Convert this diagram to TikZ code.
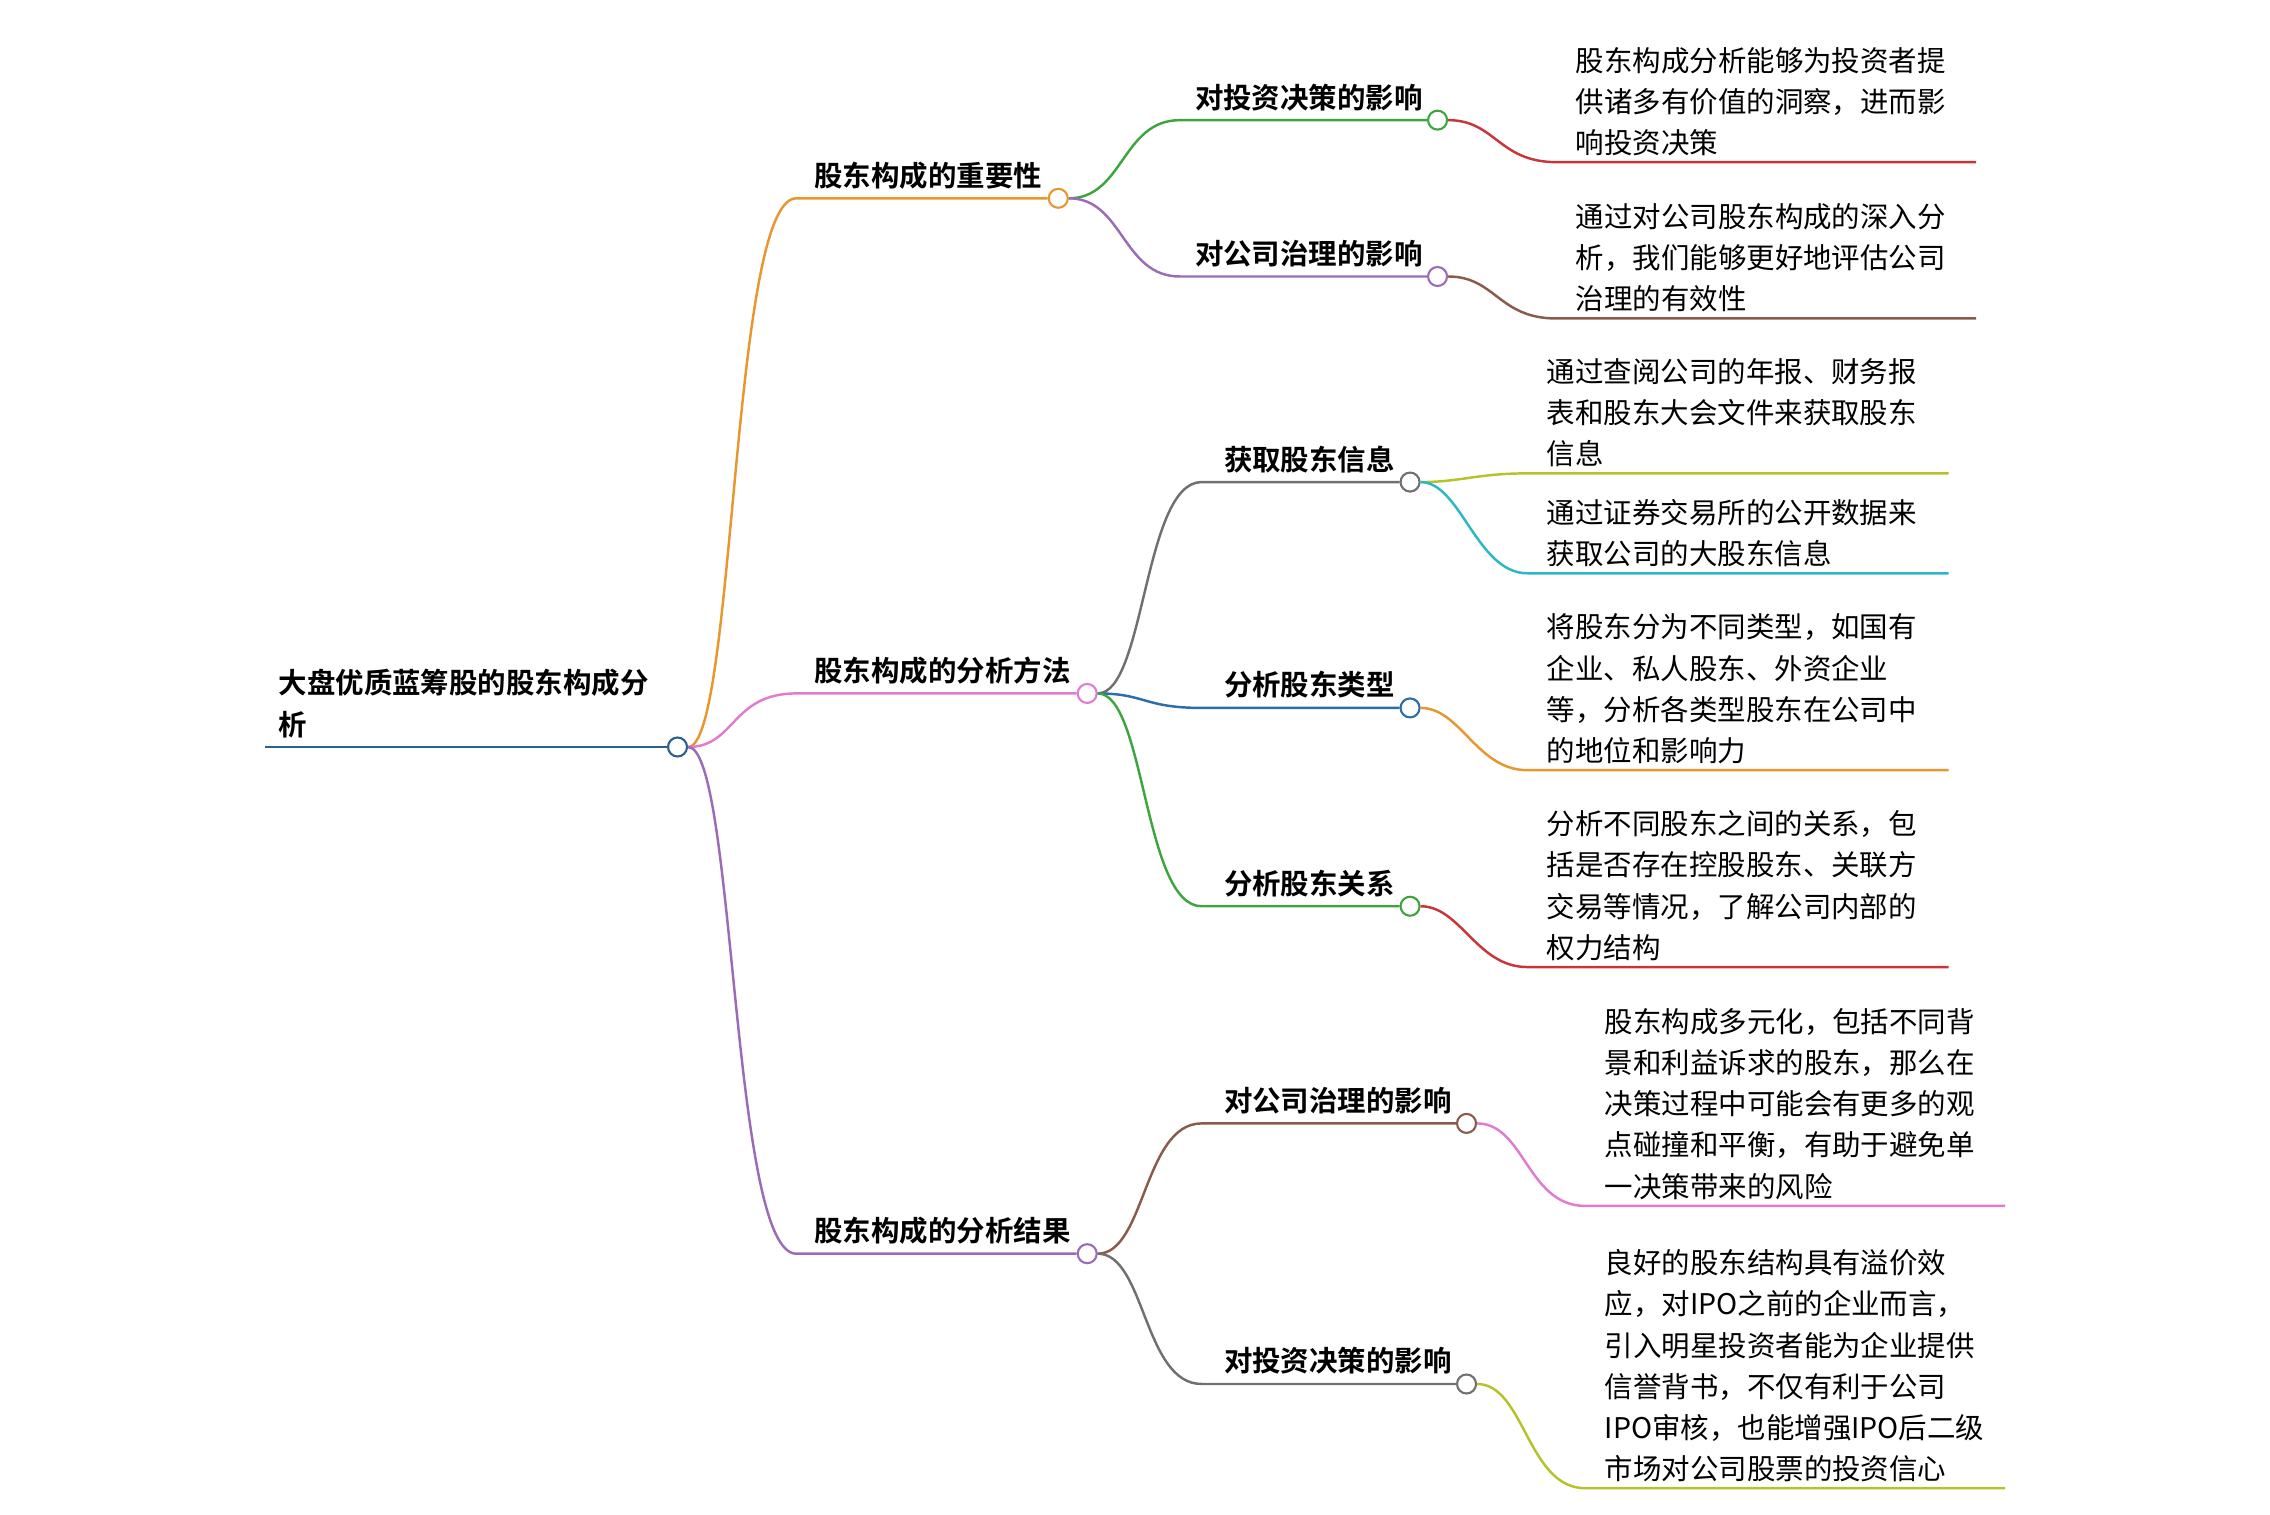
\documentclass[tikz,border=0pt]{standalone}
\usepackage{fontspec}
\setmainfont{Noto Sans CJK SC}[BoldFont={Noto Sans CJK SC Bold}]
\definecolor{corange}{HTML}{E8962E}
\definecolor{cpink}{HTML}{E07BD0}
\definecolor{cpurple}{HTML}{9B6BB8}
\definecolor{cgreen}{HTML}{3DA53D}
\definecolor{cred}{HTML}{C8363A}
\definecolor{cbrown}{HTML}{8A5A4A}
\definecolor{cgray}{HTML}{707070}
\definecolor{cyel}{HTML}{B5C22A}
\definecolor{ccyan}{HTML}{2AB8C8}
\definecolor{cblue}{HTML}{2C6FA8}
\definecolor{croot}{HTML}{2C5F8A}
\tikzset{
  lbl/.style={font=\bfseries\fontsize{8.1}{11.7}\selectfont, inner sep=0pt, anchor=south west},
  leaf/.style={font=\fontsize{8.1}{11.7}\selectfont, align=left, inner sep=0pt, anchor=south west},
  dot/.style={circle, draw, fill=white, line width=0.6pt, inner sep=0pt, minimum size=0.19cm},
  ln/.style={line width=0.7pt},
}
\begin{document}
\begin{tikzpicture}[x=0.014477cm, y=-0.014477cm]
  \useasboundingbox (0,0) rectangle (1568,1046);

  % root
  \node[lbl, align=left] (root) at (192,510) {大盘优质蓝筹股的股东构成分\\析};
  \coordinate (rootS) at (183,516);
  \node[dot, draw=croot] (rootC) at (468,516) {};
  \draw[ln, croot] (rootS) -- (rootC);

  % level 1
  \coordinate (impS) at (550,137);
  \node[lbl] (imp) at (562,131) {股东构成的重要性};
  \node[dot, draw=corange] (impC) at (731,137) {};
  \coordinate (metS) at (550,479);
  \node[lbl] (met) at (562,473) {股东构成的分析方法};
  \node[dot, draw=cpink] (metC) at (751,479) {};
  \coordinate (resS) at (550,866);
  \node[lbl] (res) at (562,860) {股东构成的分析结果};
  \node[dot, draw=cpurple] (resC) at (751,866) {};

  \draw[ln, corange] (rootC) .. controls +(40,0) and +(-45,0) .. (impS) -- (impC);
  \draw[ln, cpink] (rootC) .. controls +(40,0) and +(-45,0) .. (metS) -- (metC);
  \draw[ln, cpurple] (rootC) .. controls +(40,0) and +(-45,0) .. (resS) -- (resC);

  % level 2
  \coordinate (aS) at (815,83);
  \node[lbl] (a) at (825,77) {对投资决策的影响};
  \node[dot, draw=cgreen] (aC) at (993,83) {};
  \coordinate (bS) at (815,191);
  \node[lbl] (b) at (825,185) {对公司治理的影响};
  \node[dot, draw=cpurple] (bC) at (993,191) {};
  \draw[ln, cgreen] (impC) .. controls +(45,0) and +(-40,0) .. (aS) -- (aC);
  \draw[ln, cpurple] (impC) .. controls +(45,0) and +(-40,0) .. (bS) -- (bC);

  \coordinate (cS) at (830,333);
  \node[lbl] (c) at (845,327) {获取股东信息};
  \node[dot, draw=cgray] (cC) at (974,333) {};
  \coordinate (dS) at (830,489);
  \node[lbl] (d) at (845,483) {分析股东类型};
  \node[dot, draw=cblue] (dC) at (974,489) {};
  \coordinate (eS) at (830,626);
  \node[lbl] (e) at (845,620) {分析股东关系};
  \node[dot, draw=cgreen] (eC) at (974,626) {};
  \draw[ln, cgray] (metC) .. controls +(40,0) and +(-40,0) .. (cS) -- (cC);
  \draw[ln, cblue] (metC) .. controls +(40,0) and +(-40,0) .. (dS) -- (dC);
  \draw[ln, cgreen] (metC) .. controls +(40,0) and +(-40,0) .. (eS) -- (eC);

  \coordinate (fS) at (830,776);
  \node[lbl] (f) at (845,770) {对公司治理的影响};
  \node[dot, draw=cbrown] (fC) at (1013,776) {};
  \coordinate (gS) at (830,956);
  \node[lbl] (g) at (845,950) {对投资决策的影响};
  \node[dot, draw=cgray] (gC) at (1013,956) {};
  \draw[ln, cbrown] (resC) .. controls +(40,0) and +(-40,0) .. (fS) -- (fC);
  \draw[ln, cgray] (resC) .. controls +(40,0) and +(-40,0) .. (gS) -- (gC);

  % leaves
  \node[leaf] (aL) at (1088,108) {股东构成分析能够为投资者提\\供诸多有价值的洞察，进而影\\响投资决策};
  \coordinate (aLS) at (1075,112); \coordinate (aLE) at (1365,112);
  \draw[ln, cred] (aC) .. controls +(40,0) and +(-40,0) .. (aLS) -- (aLE);

  \node[leaf] (bL) at (1088,216) {通过对公司股东构成的深入分\\析，我们能够更好地评估公司\\治理的有效性};
  \coordinate (bLS) at (1075,220); \coordinate (bLE) at (1365,220);
  \draw[ln, cbrown] (bC) .. controls +(40,0) and +(-40,0) .. (bLS) -- (bLE);

  \node[leaf] (cL1) at (1068,323) {通过查阅公司的年报、财务报\\表和股东大会文件来获取股东\\信息};
  \coordinate (c1S) at (1055,327); \coordinate (c1E) at (1346,327);
  \draw[ln, cyel] (cC) .. controls +(35,0) and +(-35,0) .. (c1S) -- (c1E);
  \node[leaf] (cL2) at (1068,392) {通过证券交易所的公开数据来\\获取公司的大股东信息};
  \coordinate (c2S) at (1055,396); \coordinate (c2E) at (1346,396);
  \draw[ln, ccyan] (cC) .. controls +(35,0) and +(-35,0) .. (c2S) -- (c2E);

  \node[leaf] (dL) at (1068,528) {将股东分为不同类型，如国有\\企业、私人股东、外资企业\\等，分析各类型股东在公司中\\的地位和影响力};
  \coordinate (dLS) at (1055,532); \coordinate (dLE) at (1346,532);
  \draw[ln, corange] (dC) .. controls +(35,0) and +(-35,0) .. (dLS) -- (dLE);

  \node[leaf] (eL) at (1068,664) {分析不同股东之间的关系，包\\括是否存在控股股东、关联方\\交易等情况，了解公司内部的\\权力结构};
  \coordinate (eLS) at (1055,668); \coordinate (eLE) at (1346,668);
  \draw[ln, cred] (eC) .. controls +(35,0) and +(-35,0) .. (eLS) -- (eLE);

  \node[leaf] (fL) at (1108,829) {股东构成多元化，包括不同背\\景和利益诉求的股东，那么在\\决策过程中可能会有更多的观\\点碰撞和平衡，有助于避免单\\一决策带来的风险};
  \coordinate (fLS) at (1095,833); \coordinate (fLE) at (1385,833);
  \draw[ln, cpink] (fC) .. controls +(40,0) and +(-40,0) .. (fLS) -- (fLE);

  \node[leaf] (gL) at (1108,1024) {良好的股东结构具有溢价效\\应，对IPO之前的企业而言，\\引入明星投资者能为企业提供\\信誉背书，不仅有利于公司\\IPO审核，也能增强IPO后二级\\市场对公司股票的投资信心};
  \coordinate (gLS) at (1095,1028); \coordinate (gLE) at (1385,1028);
  \draw[ln, cyel] (gC) .. controls +(40,0) and +(-40,0) .. (gLS) -- (gLE);
\end{tikzpicture}
\end{document}
